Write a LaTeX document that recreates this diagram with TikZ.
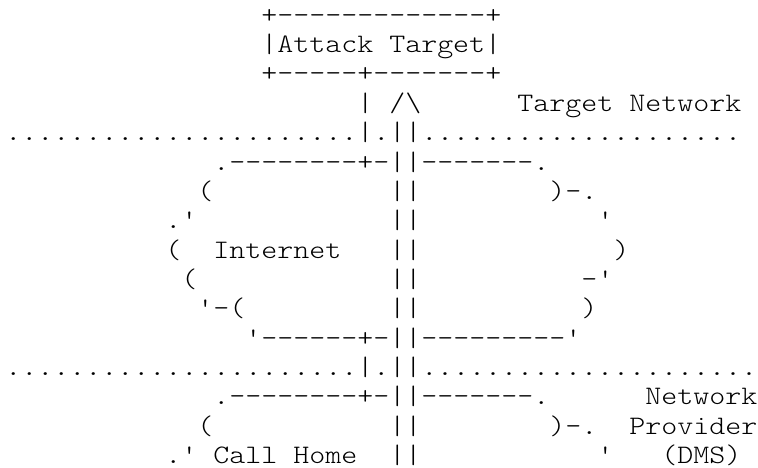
\documentclass[tikz,border=0pt]{standalone}
\usepackage{fontspec}
\setmonofont{lmmonolt10-regular.otf}[FakeStretch=1.143]
\newcommand\asc[4]{\node[txt] (#1) at ({5.3+16*#2},{-23.3-29.35*(#3-1)}) {#4};}
\begin{document}
\begin{tikzpicture}[x=1pt,y=1pt,
  txt/.style={anchor=base west,inner sep=0pt,outer sep=0pt,
    font=\ttfamily\fontsize{26.66pt}{29.4pt}\selectfont}]
\useasboundingbox (0,0) rectangle (758,-468);
% attack target box
\asc{r1}{16}{1}{+-------------+}
\asc{r2}{16}{2}{|Attack Target|}
\asc{r3}{16}{3}{+-----+-------+}
\asc{r4a}{22}{4}{|}
\asc{r4b}{24}{4}{/\textbackslash}
\asc{r4c}{32}{4}{Target Network}
\asc{r5}{0}{5}{......................|.||....................}
% internet cloud
\asc{r6}{13}{6}{.--------+-||-------.}
\asc{r7a}{12}{7}{(}
\asc{r7b}{24}{7}{||}
\asc{r7c}{34}{7}{)-.}
\asc{r8a}{10}{8}{.'}
\asc{r8b}{24}{8}{||}
\asc{r8c}{37}{8}{'}
\asc{r9a}{10}{9}{(}
\asc{r9b}{13}{9}{Internet}
\asc{r9c}{24}{9}{||}
\asc{r9d}{38}{9}{)}
\asc{r10a}{11}{10}{(}
\asc{r10b}{24}{10}{||}
\asc{r10c}{36}{10}{-'}
\asc{r11a}{12}{11}{'-(}
\asc{r11b}{24}{11}{||}
\asc{r11c}{36}{11}{)}
\asc{r12}{15}{12}{'------+-||---------'}
\asc{r13}{0}{13}{......................|.||.....................}
% call home cloud
\asc{r14a}{13}{14}{.--------+-||-------.}
\asc{r14b}{40}{14}{Network}
\asc{r15a}{12}{15}{(}
\asc{r15b}{24}{15}{||}
\asc{r15c}{34}{15}{)-.}
\asc{r15d}{39}{15}{Provider}
\asc{r16a}{10}{16}{.'}
\asc{r16b}{13}{16}{Call Home}
\asc{r16c}{24}{16}{||}
\asc{r16d}{37}{16}{'}
\asc{r16e}{41}{16}{(DMS)}
\end{tikzpicture}
\end{document}
